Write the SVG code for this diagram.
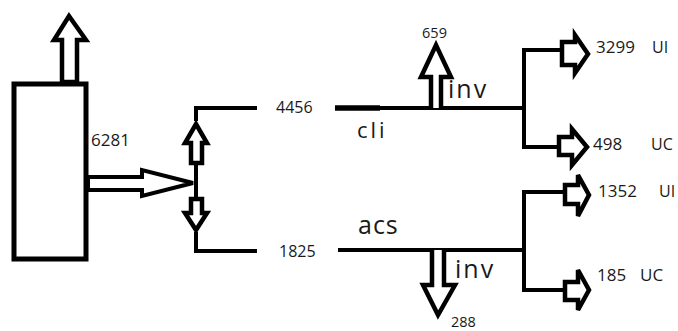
<svg xmlns="http://www.w3.org/2000/svg" width="678" height="331" viewBox="0 0 678 331">
<style>
.ln{fill:none;stroke:#000;stroke-width:4;stroke-linecap:butt;stroke-linejoin:miter}
.ar{fill:#fff;stroke:#000;stroke-width:4.5;stroke-linejoin:miter}
.num{font-family:"Open Sans","Noto Sans","Liberation Sans",sans-serif;font-size:16px;fill:#1a1a1a}
.sm{font-family:"Open Sans","Noto Sans","Liberation Sans",sans-serif;font-size:14.5px;fill:#1a1a1a}
.lab{font-family:"Open Sans","Noto Sans","Liberation Sans",sans-serif;font-size:25px;fill:#1a1a1a}
</style>
<rect width="678" height="331" fill="#fff"/>
<g id="source">
  <rect x="14" y="84" width="72" height="175" fill="#fff" stroke="#000" stroke-width="5"/>
  <polygon class="ar" points="62,82 62,40 54,40 69,16 86,40 77,40 77,82"/>
  <text class="num" x="91" y="146" style="font-size:17px">6281</text>
</g>
<g id="connectors">
  <polygon class="ar" style="stroke-width:4" points="88,177 142,177 142,170 193,183 142,196 142,190 88,190"/>
  <path class="ln" d="M196,121 V108 H257"/>
  <path class="ln" d="M196,163 V200"/>
  <path class="ln" d="M196,232 V251 H257"/>
  <path class="ln" d="M335,108 H524"/>
  <path class="ln" style="stroke-width:5.5" d="M335,108 H380"/>
  <path class="ln" d="M524,50 V147 M522,50 H562 M522,147 H559"/>
  <path class="ln" d="M338,250 H524"/>
  <path class="ln" d="M524,192 V290 M522,192 H565 M522,290 H565"/>
</g>
<g id="split-up">
  <polygon class="ar" points="191,163 191,143 185,143 196,124 207,143 202,143 202,163"/>
</g>
<g id="split-down">
  <polygon class="ar" points="191,199 191,213 185,213 196,230 207,213 202,213 202,199"/>
</g>
<g id="cli-branch">
  <text class="num" x="276" y="113">4456</text>
  <text class="lab" x="357" y="138" style="font-size:22px;letter-spacing:3px">cli</text>
  <polyline class="ar" points="431,108 431,77 421,77 436,45 451,77 441,77 441,108"/>
  <text class="sm" x="434.5" y="38" text-anchor="middle">659</text>
  <text class="lab" x="448" y="98" style="letter-spacing:2px">inv</text>
</g>
<g id="cli-ui">
  <polygon class="ar" points="562,42 575,42 575,35 588,54 575,73 575,65 562,65"/>
  <text class="num" x="596" y="53" style="font-size:17px">3299</text>
  <text class="num" x="652" y="53">UI</text>
</g>
<g id="cli-uc">
  <polygon class="ar" points="559,137 572,137 572,129 587,147 572,165 572,155 559,155"/>
  <text class="num" x="593" y="150" style="font-size:17px">498</text>
  <text class="num" x="651" y="150">UC</text>
</g>
<g id="acs-branch">
  <text class="num" x="279" y="257">1825</text>
  <text class="lab" x="358" y="234" style="letter-spacing:1px">acs</text>
  <polyline class="ar" points="432,250 432,285 423,285 438,315 455,285 444,285 444,250"/>
  <text class="sm" x="451" y="327">288</text>
  <text class="lab" x="455" y="278" style="letter-spacing:2px">inv</text>
</g>
<g id="acs-ui">
  <polygon class="ar" points="565,185 578,185 578,175 589,195 578,216 578,204 565,204"/>
  <text class="num" x="598" y="197" style="font-size:17px">1352</text>
  <text class="num" x="659" y="197">UI</text>
</g>
<g id="acs-uc">
  <polygon class="ar" points="565,282 578,282 578,270 589,290 578,310 578,300 565,300"/>
  <text class="num" x="597" y="281" style="font-size:17px">185<tspan x="640">UC</tspan></text>
</g>
</svg>
